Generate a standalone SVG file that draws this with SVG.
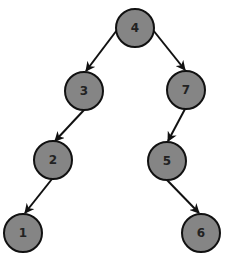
<svg xmlns="http://www.w3.org/2000/svg" width="240" height="266" viewBox="0 0 240 266">
<style>
.n circle{fill:#858585;stroke:#111;stroke-width:2}
.n text{font-family:"DejaVu Sans",sans-serif;font-size:12px;font-weight:bold;fill:#222;text-anchor:middle;dominant-baseline:central}
.e line{stroke:#111;stroke-width:2;marker-end:url(#a)}
</style>
<defs>
<marker id="a" viewBox="0 0 10 10" refX="9" refY="5" markerWidth="5" markerHeight="5" orient="auto" markerUnits="strokeWidth">
<path d="M0,0 L10,5 L0,10 L3,5 Z" fill="#111"/>
</marker>
</defs>
<rect width="240" height="266" fill="#fff"/>
<g id="edges" class="e">
<line x1="117" y1="30" x2="86" y2="71"/>
<line x1="153" y1="30" x2="185" y2="70"/>
<line x1="84" y1="110" x2="55" y2="141"/>
<line x1="185" y1="109" x2="168" y2="141"/>
<line x1="52" y1="179" x2="25" y2="213"/>
<line x1="167" y1="180" x2="199" y2="213"/>
</g>
<g id="n4" class="n"><circle cx="135" cy="28" r="19"/><text x="135" y="28">4</text></g>
<g id="n3" class="n"><circle cx="84" cy="91" r="19"/><text x="84" y="91">3</text></g>
<g id="n7" class="n"><circle cx="186" cy="90" r="19"/><text x="186" y="90">7</text></g>
<g id="n2" class="n"><circle cx="53" cy="160" r="19"/><text x="53" y="160">2</text></g>
<g id="n5" class="n"><circle cx="167" cy="161" r="19"/><text x="167" y="161">5</text></g>
<g id="n1" class="n"><circle cx="23" cy="233" r="19"/><text x="23" y="233">1</text></g>
<g id="n6" class="n"><circle cx="201" cy="233" r="19"/><text x="201" y="233">6</text></g>
</svg>
